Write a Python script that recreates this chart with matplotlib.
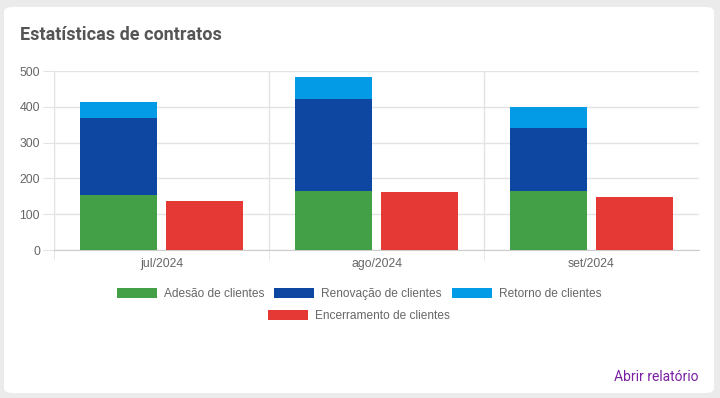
import matplotlib.pyplot as plt
from matplotlib.patches import FancyBboxPatch, Patch

plt.rcParams['font.family'] = ['Liberation Sans', 'DejaVu Sans']

meses = ['jul/2024', 'ago/2024', 'set/2024']
adesao = [153, 165, 164]
renovacao = [215, 258, 178]
retorno = [45, 59, 58]
encerramento = [136, 161, 147]

verde = '#43a047'
azul = '#0d47a1'
azul_claro = '#039be5'
vermelho = '#e53935'

fig = plt.figure(figsize=(7.2, 3.98), dpi=100)
fig.patch.set_facecolor('#ebebeb')

# cartão branco
card = FancyBboxPatch((4 / 720, 1 - 393 / 398), 710 / 720, 386 / 398,
                      boxstyle='round,pad=0,rounding_size=0.012',
                      transform=fig.transFigure, facecolor='white',
                      edgecolor='none', zorder=-1)
fig.patches.append(card)

fig.text(20 / 720, 1 - 40 / 398, 'Estatísticas de contratos', fontsize=13,
         fontweight='bold', color='#555555', va='baseline', ha='left',
         family=['Roboto', 'DejaVu Sans'])

ax = fig.add_axes([54 / 720, 1 - 250 / 398, 645 / 720, 179 / 398], zorder=2)
ax.set_facecolor('none')

x = list(range(len(meses)))
xs = [i - 0.2 for i in x]
xr = [i + 0.2 for i in x]
base2 = [a + b for a, b in zip(adesao, renovacao)]

w = 0.36
ax.bar(xs, adesao, width=w, color=verde, zorder=3)
ax.bar(xs, renovacao, width=w, bottom=adesao, color=azul, zorder=3)
ax.bar(xs, retorno, width=w, bottom=base2, color=azul_claro, zorder=3)
ax.bar(xr, encerramento, width=w, color=vermelho, zorder=3)

ax.set_xlim(-0.5, 2.5)
ax.set_ylim(0, 500)
ax.set_yticks(range(0, 501, 100))
ax.set_xticks(x)
ax.set_xticklabels(meses)
ax.set_xticks([-0.5, 0.5, 1.5], minor=True)

grid_c = '#e3e3e3'
ax.grid(axis='y', color=grid_c, linewidth=1, zorder=0)
ax.grid(axis='x', which='minor', color=grid_c, linewidth=1, zorder=0)
ax.tick_params(axis='y', length=8, color=grid_c, labelsize=8.8,
               labelcolor='#666666', pad=2)
ax.tick_params(axis='x', which='major', length=0, labelsize=8.8,
               labelcolor='#666666', pad=6)
ax.tick_params(axis='x', which='minor', length=7, color=grid_c)

for s in ['top', 'right']:
    ax.spines[s].set_visible(False)
ax.spines['left'].set_color(grid_c)
ax.spines['bottom'].set_color('#cccccc')

h1 = [Patch(facecolor=verde, label='Adesão de clientes'),
      Patch(facecolor=azul, label='Renovação de clientes'),
      Patch(facecolor=azul_claro, label='Retorno de clientes')]
h2 = [Patch(facecolor=vermelho, label='Encerramento de clientes')]

leg_kw = dict(frameon=False, fontsize=8.6, handlelength=3.35, handleheight=1.0,
              handletextpad=0.59, columnspacing=0.84, labelcolor='#666666',
              borderpad=0, borderaxespad=0)
fig.legend(handles=h1, ncol=3, loc='center', bbox_to_anchor=(359 / 720, 1 - 294 / 398), **leg_kw)
fig.legend(handles=h2, ncol=1, loc='center', bbox_to_anchor=(359 / 720, 1 - 316 / 398), **leg_kw)

fig.text(699 / 720, 1 - 377 / 398, 'Abrir relatório', fontsize=10,
         color='#7b1fa2', ha='right', va='center',
         family=['Roboto', 'DejaVu Sans'])

fig.savefig('out.png', dpi=100, facecolor=fig.get_facecolor())
